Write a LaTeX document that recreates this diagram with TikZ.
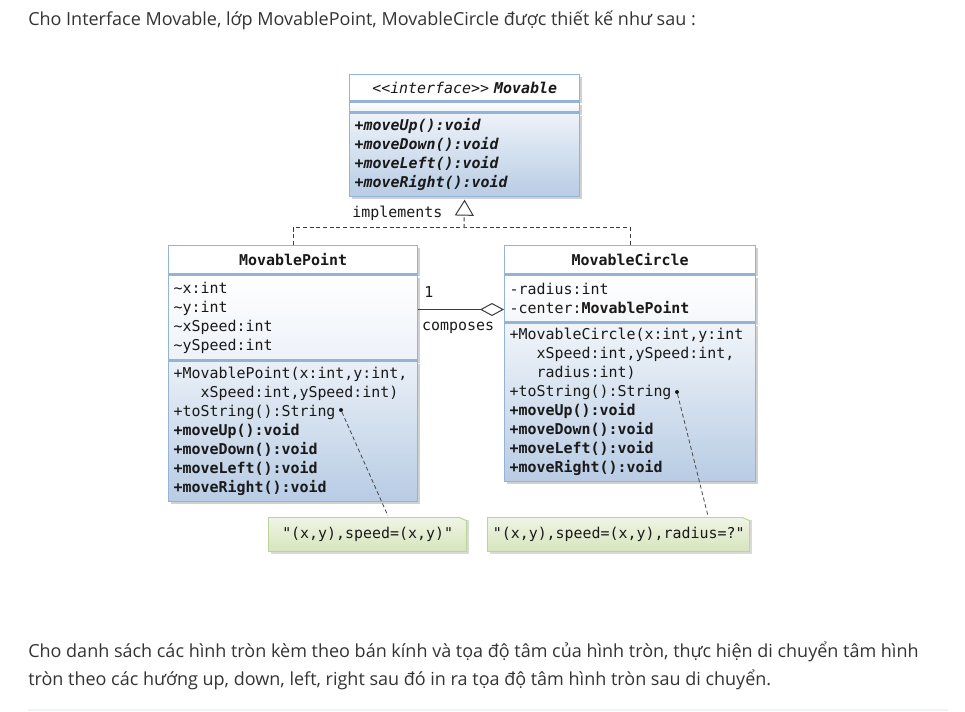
\documentclass[tikz,border=0pt]{standalone}
\usepackage{fontspec}
\setmainfont{Open Sans}
\setmonofont{DejaVu Sans Mono}
\usetikzlibrary{positioning,arrows.meta,shadows}

\newlength{\pxu}\setlength{\pxu}{0.75pt}

\definecolor{umlline}{RGB}{149,179,215}
\definecolor{umlfill}{RGB}{184,204,228}
\definecolor{umltext}{RGB}{25,25,25}
\definecolor{noteline}{RGB}{190,212,150}
\definecolor{notefill}{RGB}{214,228,188}
\definecolor{bodytext}{RGB}{51,51,51}
\definecolor{rulecolor}{RGB}{238,244,252}

\tikzset{
  umlpart/.style={draw=umlline, line width=1pt, inner xsep=5\pxu, inner ysep=0pt,
    font=\ttfamily\fontsize{11.2}{14.25}\selectfont, text=umltext,
    drop shadow={shadow xshift=2pt, shadow yshift=-2pt, fill=black, opacity=0.18}},
  umlhead/.style={umlpart, fill=white, align=center},
  umlbody/.style={umlpart, align=left, top color=white, bottom color=umlfill},
  notebox/.style={draw=noteline, line width=1pt, top color=white!60!notefill, bottom color=notefill,
    font=\ttfamily\fontsize{11.2}{14.25}\selectfont, text=umltext, minimum height=34\pxu,
    drop shadow={shadow xshift=2pt, shadow yshift=-2pt, fill=black, opacity=0.15}},
  dotnode/.style={circle, fill=umltext, inner sep=0pt, minimum size=4\pxu},
  notelink/.style={draw=umltext!80, dash pattern=on 3pt off 2pt, line width=0.6pt},
  realize/.style={draw=umltext!85, dash pattern=on 3pt off 2pt, line width=0.75pt},
  compose/.style={draw=umltext!85, line width=0.75pt,
    -{Diamond[open, fill=white, length=18pt, width=9.75pt]}},
  edgelabel/.style={font=\ttfamily\fontsize{11.2}{14.25}\selectfont, text=umltext},
  bodyfont/.style={font=\fontsize{13.5}{21}\selectfont, text=bodytext}
}

\begin{document}
\begin{tikzpicture}[x=0.75pt, y=-0.75pt]
  \useasboundingbox (0,0) rectangle (965,712);
  % Text around the diagram
  \node[bodyfont, anchor=west, inner sep=0pt] (intro) at (28,20)
    {Cho Interface Movable, lớp MovablePoint, MovableCircle được thiết kế như sau :};
  \node[bodyfont, anchor=north west, align=left, inner sep=0pt] (task) at (28,642)
    {Cho danh sách các hình tròn kèm theo bán kính và tọa độ tâm của hình tròn, thực hiện di chuyển tâm hình\\
     tròn theo các hướng up, down, left, right sau đó in ra tọa độ tâm hình tròn sau di chuyển.};
  \draw[rulecolor, line width=1.5pt] (28,710) -- (948,710);

  % Interface Movable
  \node[umlhead, anchor=north west, text width=220\pxu, minimum height=26\pxu] (mvHead) at (349,74)
    {\textit{<<interface>>} \textbf{\textit{Movable}}};
  \node[umlbody, below=0pt of mvHead, text width=220\pxu, minimum height=10\pxu,
    bottom color=white!75!umlfill] (mvAttr) {};
  \node[umlbody, below=0pt of mvAttr, text width=220\pxu, minimum height=83\pxu,
    top color=white!75!umlfill] (mvOps)
    {\textbf{\textit{+moveUp():void}}\\
     \textbf{\textit{+moveDown():void}}\\
     \textbf{\textit{+moveLeft():void}}\\
     \textbf{\textit{+moveRight():void}}};

  % Class MovablePoint
  \node[umlhead, anchor=north west, text width=239\pxu, minimum height=28\pxu] (mpHead) at (168,245)
    {\textbf{MovablePoint}};
  \node[umlbody, below=0pt of mpHead, text width=239\pxu, minimum height=85\pxu,
    bottom color=white!75!umlfill] (mpAttr)
    {\textasciitilde x:int\\
     \textasciitilde y:int\\
     \textasciitilde xSpeed:int\\
     \textasciitilde ySpeed:int};
  \node[umlbody, below=0pt of mpAttr, text width=239\pxu, minimum height=140\pxu,
    top color=white!70!umlfill] (mpOps)
    {+MovablePoint(x:int,y:int,\\
     \hphantom{xxx}xSpeed:int,ySpeed:int)\\
     +toString():String\\
     \textbf{+moveUp():void}\\
     \textbf{+moveDown():void}\\
     \textbf{+moveLeft():void}\\
     \textbf{+moveRight():void}};

  % Class MovableCircle
  \node[umlhead, anchor=north west, text width=241\pxu, minimum height=28\pxu] (mcHead) at (504,245)
    {\textbf{MovableCircle}};
  \node[umlbody, below=0pt of mcHead, text width=241\pxu, minimum height=47\pxu,
    bottom color=white!85!umlfill] (mcAttr)
    {-radius:int\\
     -center:\textbf{MovablePoint}};
  \node[umlbody, below=0pt of mcAttr, text width=241\pxu, minimum height=158\pxu,
    top color=white!80!umlfill] (mcOps)
    {+MovableCircle(x:int,y:int\\
     \hphantom{xxx}xSpeed:int,ySpeed:int,\\
     \hphantom{xxx}radius:int)\\
     +toString():String\\
     \textbf{+moveUp():void}\\
     \textbf{+moveDown():void}\\
     \textbf{+moveLeft():void}\\
     \textbf{+moveRight():void}};

  % Notes
  \node[notebox, anchor=north west, minimum width=198\pxu] (mpNote) at (268,517)
    {"(x,y),speed=(x,y)"};
  \node[notebox, anchor=north west, minimum width=262\pxu] (mcNote) at (487,517)
    {"(x,y),speed=(x,y),radius=?"};
  \foreach \n in {mpNote,mcNote}{
    \fill[white] (\n.north east) -- ([xshift=-9\pxu]\n.north east) -- ([yshift=-4\pxu]\n.north east) -- cycle;
    \draw[noteline, line width=0.8pt] ([xshift=-9\pxu]\n.north east) -- ([yshift=-4\pxu]\n.north east);
  }
  \node[dotnode] (mpDot) at (341,410) {};
  \node[dotnode] (mcDot) at (677,392) {};
  \coordinate (mpTip) at (388,516);
  \coordinate (mcTip) at (708,516);
  \draw[notelink] (mpDot) -- (mpTip);
  \draw[notelink] (mcDot) -- (mcTip);

  % Implements
  \coordinate (split) at (464,228);
  \draw[realize] (mpHead.north) |- (split) -| (mcHead.north);
  \draw[realize, -{Triangle[open, fill=white, length=12pt, width=14.25pt]}, shorten >=2pt] (split) -- (mvOps.south);
  \node[edgelabel, anchor=east] (implLabel) at (447,213) {implements};

  % Composes
  \coordinate (compR) at ([yshift=-11\pxu]mcAttr.west);
  \draw[compose] (compR -| mpAttr.east) -- node[edgelabel, pos=0, anchor=south west, xshift=1\pxu, yshift=7\pxu] {1}
    node[edgelabel, midway, below, xshift=-3\pxu, yshift=-8\pxu] {composes} (compR);
\end{tikzpicture}
\end{document}
